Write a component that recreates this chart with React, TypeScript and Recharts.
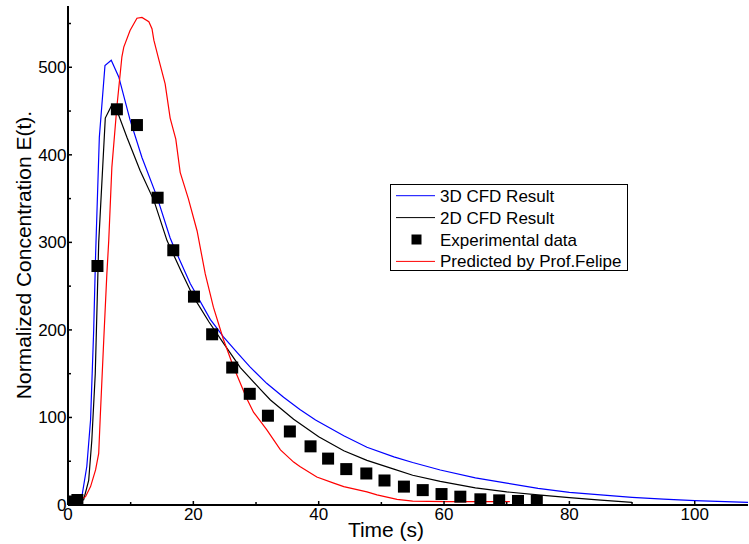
import { ComposedChart, Line, Scatter, XAxis, YAxis, Legend } from "recharts";

const FONT = '"Liberation Sans", Arial, sans-serif';

// 3D CFD result (blue)
const t3d = [0, 1.5, 2.2, 3.0, 3.6, 4.1, 4.4, 5.0, 5.9, 6.9, 8.1, 9.9, 11.8, 14.2, 16.3, 17.0, 19.5, 22.7, 24.8, 27, 29, 31.7, 34.4, 37, 39.5, 44, 47.7, 52, 55, 59.4, 65, 70, 75, 80, 85, 90, 95, 100, 108.5];
const c3d = [3, 5, 9, 44, 97, 200, 285, 420, 502, 508, 489, 440, 397, 352, 305, 293, 253, 212, 192, 174, 158, 139, 123, 109, 97, 79, 66, 55, 48.5, 40, 31, 25, 19, 14.5, 11.5, 8.8, 6.7, 5, 3];

// 2D CFD result (black)
const t2d = [0, 1.5, 2.5, 3.3, 3.8, 4.35, 4.7, 4.9, 5.95, 7.0, 7.9, 9.4, 11.5, 13.7, 15.8, 18, 20, 22.5, 24.8, 27.5, 30.7, 32.3, 36, 40, 44, 47.7, 52, 55, 59.4, 65, 70, 75, 80, 85, 90];
const c2d = [3, 4, 6, 28, 74, 150, 245, 300, 442, 457, 449, 420, 382, 348, 302, 268, 238, 209, 185, 157, 132, 120, 98, 78, 62, 51, 41, 34, 27, 19.5, 15, 11.5, 8.5, 5.5, 3];

// Predicted by Prof. Felipe (red)
const tPred = [0, 0.3, 2, 2.8, 3.6, 4.4, 4.9, 5.15, 5.7, 6.2, 6.5, 7.0, 7.8, 8.6, 8.9, 9.9, 11.0, 11.8, 12.9, 13.4, 13.7, 14.45, 15.5, 16.3, 17.2, 17.9, 19.2, 20.6, 21.9, 23.2, 24.8, 26.4, 28.5, 29.6, 31.7, 33.9, 36, 37, 39.7, 42.4, 44, 47.7, 49.3, 52.5, 55, 60, 65, 70.5];
const cPred = [0, 4, 6, 9.5, 21, 40, 59, 101, 188, 264, 302, 386, 455, 512, 523, 542, 556, 557, 552, 544, 531, 510, 481, 442, 418, 380, 350, 313, 264, 226, 189, 158, 122, 106, 86, 63, 49, 44, 32, 25, 21, 15, 11.5, 6.5, 4.5, 3.8, 3.8, 3.8];

// Experimental data (squares)
const tExp = [0.2, 1.5, 4.7, 7.8, 11.0, 14.3, 16.8, 20.1, 23.0, 26.2, 29.0, 31.9, 35.4, 38.7, 41.5, 44.4, 47.6, 50.5, 53.6, 56.6, 59.6, 62.6, 65.8, 68.8, 71.8, 74.8];
const cExp = [4, 5.7, 273, 452, 434, 351, 291, 238, 195, 157, 127, 102, 84, 67, 53, 41, 36, 28, 21, 17, 12.5, 9.5, 6.5, 5.3, 4.6, 4.6];

const xTicks = [0, 10, 20, 30, 40, 50, 60, 70, 80, 90, 100];
const yTicks = [0, 50, 100, 150, 200, 250, 300, 350, 400, 450, 500, 550];

const toPoints = (ts: number[], vs: number[]) => ts.map((t, i) => ({ t, v: vs[i] }));

const data3d = toPoints(t3d, c3d);
const data2d = toPoints(t2d, c2d);
const dataPred = toPoints(tPred, cPred);
const dataExp = toPoints(tExp, cExp);

const legendItems = [
  { name: "3D CFD Result", color: "#0000ff", kind: "line" },
  { name: "2D CFD Result", color: "#000000", kind: "line" },
  { name: "Experimental data", color: "#000000", kind: "square" },
  { name: "Predicted by Prof.Felipe", color: "#ff0000", kind: "line" },
];

const XTick = ({ x, y, payload }: any) => {
  const major = payload.value % 20 === 0;
  return (
    <g>
      <line x1={x} y1={y} x2={x} y2={y - (major ? 4 : 3)} stroke="#000" strokeWidth={1.5} />
      {major && (
        <text x={x} y={y + 14.5} textAnchor="middle" fontSize={17} fontFamily={FONT} fill="#000">
          {payload.value}
        </text>
      )}
    </g>
  );
};

const YTick = ({ x, y, payload }: any) => {
  const major = payload.value % 100 === 0;
  return (
    <g>
      <line x1={x} y1={y} x2={x + (major ? 4 : 3)} y2={y} stroke="#000" strokeWidth={1.5} />
      {major && (
        <text x={x - 1.5} y={y + 6} textAnchor="end" fontSize={17} fontFamily={FONT} fill="#000">
          {payload.value}
        </text>
      )}
    </g>
  );
};

const XTitle = (props: any) => {
  const vb = props.viewBox ?? { x: 68, y: 505 };
  return (
    <text x={vb.x + 318} y={vb.y + 31.5} textAnchor="middle" fontSize={21} fontFamily={FONT} fill="#000">
      Time (s)
    </text>
  );
};

const YTitle = (props: any) => {
  const vb = props.viewBox ?? { x: 0, y: 6, height: 499 };
  const cx = vb.x + 30.5;
  const cy = vb.y + 249;
  return (
    <text x={cx} y={cy} transform={`rotate(-90, ${cx}, ${cy})`} textAnchor="middle" fontSize={21} fontFamily={FONT} fill="#000">
      Normalized Concentration E(t).
    </text>
  );
};

const LegendBox = () => (
  <svg width={238} height={87} style={{ display: "block" }}>
    <rect x={0.5} y={0.5} width={237} height={86} fill="#fff" stroke="#000" strokeWidth={1} />
    {legendItems.map((item, i) => {
      const cy = 11.7 + i * 21.9;
      return (
        <g key={item.name}>
          {item.kind === "line" ? (
            <line x1={6} y1={cy} x2={45} y2={cy} stroke={item.color} strokeWidth={1} />
          ) : (
            <rect x={21.5} y={cy - 5} width={10} height={10} fill={item.color} />
          )}
          <text x={50} y={cy + 6} fontSize={17} fontFamily={FONT} fill="#000">
            {item.name}
          </text>
        </g>
      );
    })}
  </svg>
);

const Square = (p: any) => <rect x={p.cx - 6} y={p.cy - 6} width={12} height={12} fill="#000" />;

export default function App() {
  return (
    <div style={{ position: "absolute", left: 0, top: 0, width: 749, height: 544, background: "#fff" }}>
      <ComposedChart width={749} height={544} margin={{ top: 6, right: 1, left: 0, bottom: 0 }}>
        <XAxis
          type="number"
          dataKey="t"
          domain={[0, 108.5]}
          allowDataOverflow
          ticks={xTicks}
          interval={0}
          tickSize={0}
          tickMargin={0}
          tickLine={false}
          tick={<XTick />}
          axisLine={{ stroke: "#000", strokeWidth: 2 }}
          height={39}
          label={<XTitle />}
        />
        <YAxis
          type="number"
          domain={[0, 570]}
          allowDataOverflow
          ticks={yTicks}
          interval={0}
          tickSize={0}
          tickMargin={0}
          tickLine={false}
          tick={<YTick />}
          axisLine={{ stroke: "#000", strokeWidth: 2 }}
          width={68}
          label={<YTitle />}
        />
        <Line data={data3d} dataKey="v" type="linear" stroke="#0000ff" strokeWidth={1.2} dot={false} isAnimationActive={false} />
        <Line data={data2d} dataKey="v" type="linear" stroke="#000000" strokeWidth={1.2} dot={false} isAnimationActive={false} />
        <Line data={dataPred} dataKey="v" type="linear" stroke="#ff0000" strokeWidth={1.2} dot={false} isAnimationActive={false} />
        <Scatter data={dataExp} dataKey="v" fill="#000" shape={Square} isAnimationActive={false} />
        <Legend
          layout="vertical"
          align="center"
          verticalAlign="middle"
          content={<LegendBox />}
          wrapperStyle={{ position: "absolute", left: 390, top: 184, width: 238, height: 87 }}
        />
      </ComposedChart>
    </div>
  );
}
